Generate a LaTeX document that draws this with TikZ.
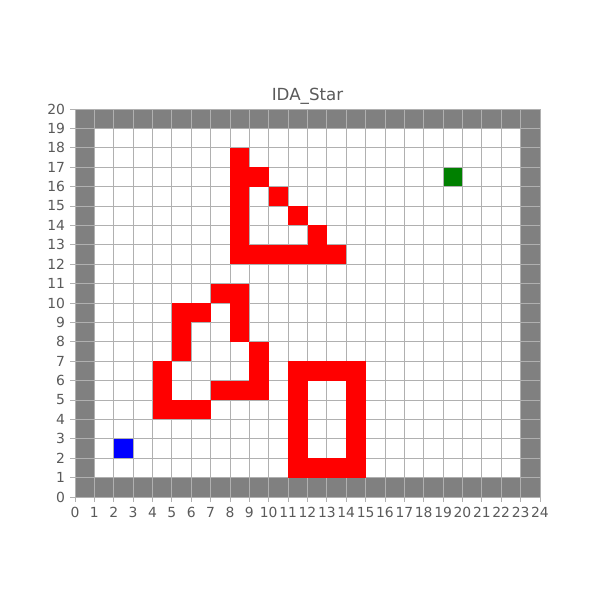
\documentclass[tikz,border=0pt]{standalone}
\usepackage{fontspec}
\setmainfont{DejaVu Sans}
\definecolor{gridc}{RGB}{176,176,176}
\definecolor{wallc}{RGB}{128,128,128}
\definecolor{obst}{RGB}{255,0,0}
\definecolor{startc}{RGB}{0,0,255}
\definecolor{goalc}{RGB}{0,128,0}
\definecolor{txtc}{RGB}{90,90,90}
\begin{document}
\begin{tikzpicture}[x=13.95pt,y=13.968pt,
  ticklab/.style={font=\fontsize{10}{12}\selectfont,text=txtc,inner sep=0pt}]
\useasboundingbox[fill=white] (-3.871,-5.309) rectangle (27.097,25.619);
% walls
\fill[wallc] (0,0) rectangle (24,1);
\fill[wallc] (0,19) rectangle (24,20);
\fill[wallc] (0,0) rectangle (1,20);
\fill[wallc] (23,0) rectangle (24,20);
% start and goal
\fill[startc] (2,2) rectangle (3,3);
\fill[goalc] (19,16) rectangle (20,17);
% grid
\draw[gridc,line width=0.7pt,step=1] (0,0) grid (24,20);
% obstacles
\foreach \x/\y in {8/17,8/16,9/16,8/15,10/15,8/14,11/14,8/13,12/13,
  8/12,9/12,10/12,11/12,12/12,13/12,
  7/10,8/10,5/9,6/9,8/9,5/8,8/8,5/7,9/7,4/6,9/6,4/5,7/5,8/5,9/5,4/4,5/4,6/4,
  11/6,12/6,13/6,14/6,11/5,14/5,11/4,14/4,11/3,14/3,11/2,14/2,11/1,12/1,13/1,14/1}
  \fill[obst] (\x,\y) rectangle ++(1,1);
% ticks and labels
\foreach \i in {0,...,24}{
  \draw[gridc,line width=0.6pt] (\i,0) -- ++(0,-3.5pt);
  \node[ticklab,anchor=north] (xl\i) at ([yshift=-7pt]\i,0) {\i};
}
\foreach \j in {0,...,20}{
  \draw[gridc,line width=0.6pt] (0,\j) -- ++(-3.5pt,0);
  \node[ticklab,anchor=east] (yl\j) at ([xshift=-7pt]0,\j) {\j};
}
\node[ticklab,font=\fontsize{12}{14}\selectfont,anchor=base] (title) at ([yshift=6pt]12,20) {IDA\_Star};
\end{tikzpicture}
\end{document}
